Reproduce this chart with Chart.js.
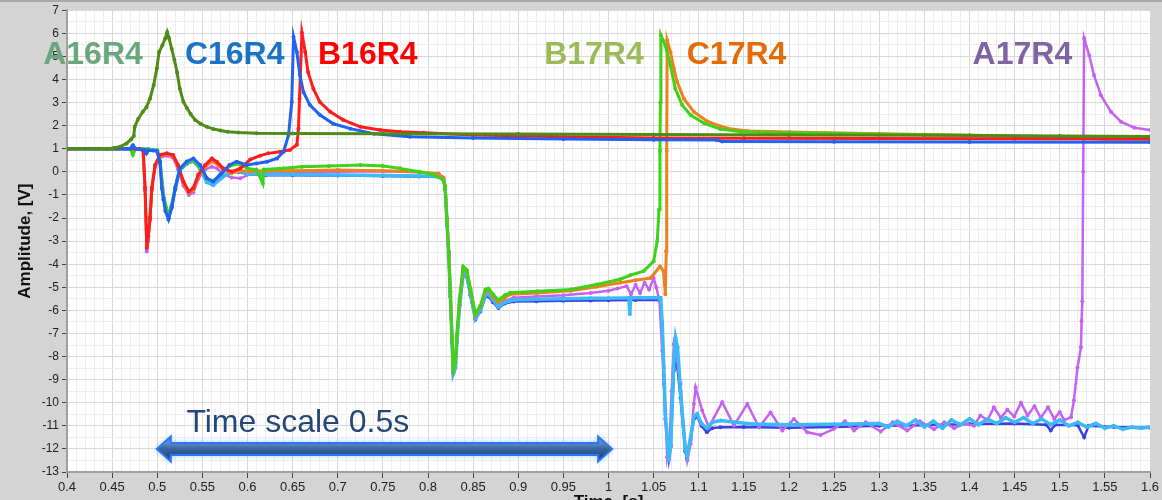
<!DOCTYPE html>
<html>
<head>
<meta charset="utf-8">
<title>Amplitude vs time</title>
<script src="https://cdn.jsdelivr.net/npm/chart.js@4.4.1/dist/chart.umd.min.js"></script>
<style>
  html, body { margin: 0; padding: 0; overflow: hidden; background: #d4d4d4; }
  #wrap { width: 1162px; height: 516px; position: relative; }
</style>
</head>
<body>
<div id="wrap"><canvas id="myChart"></canvas></div>
<script>
'use strict';

/** Data (time in s, amplitude in V) */
let a16r4 = [[0.400,1.00],[0.445,1.00],[0.452,1.03],[0.459,1.09],[0.466,1.23],[0.471,1.40],[0.474,1.55],[0.475,1.95],[0.479,2.30],[0.484,2.60],[0.488,2.80],[0.492,3.17],[0.496,3.75],[0.4995,4.47],[0.502,5.19],[0.5057,5.48],[0.5087,5.76],[0.511,6.05],[0.513,5.80],[0.516,5.33],[0.519,4.85],[0.522,4.30],[0.525,3.60],[0.529,3.03],[0.533,2.75],[0.537,2.50],[0.542,2.25],[0.548,2.08],[0.555,1.95],[0.562,1.86],[0.570,1.79],[0.578,1.74],[0.590,1.70],[0.610,1.67],[0.650,1.66],[0.750,1.65],[0.900,1.64],[1.050,1.62],[1.200,1.60],[1.350,1.58],[1.500,1.55],[1.600,1.53]];

let c16r4 = [[0.400,1.00],[0.470,1.00],[0.473,1.15],[0.476,1.00],[0.480,0.98],[0.486,0.95],[0.488,0.80],[0.490,0.93],[0.495,0.92],[0.4995,0.90],[0.503,0.45],[0.505,-0.70],[0.507,-1.20],[0.509,-1.70],[0.5125,-2.06],[0.516,-1.55],[0.520,-0.70],[0.525,0.15],[0.5327,0.45],[0.540,0.58],[0.5475,0.30],[0.555,-0.28],[0.562,-0.42],[0.570,-0.12],[0.580,0.30],[0.588,0.44],[0.599,0.30],[0.610,0.36],[0.6215,0.44],[0.6326,0.58],[0.640,0.87],[0.6455,1.60],[0.649,3.03],[0.651,5.84],[0.6547,5.19],[0.658,4.20],[0.662,3.46],[0.669,2.90],[0.680,2.47],[0.695,2.08],[0.714,1.87],[0.740,1.65],[0.780,1.52],[0.850,1.46],[0.950,1.42],[1.050,1.39],[1.120,1.38],[1.126,1.31],[1.250,1.30],[1.400,1.29],[1.600,1.28]];

let b16r4 = [[0.400,1.00],[0.480,1.00],[0.4846,0.90],[0.4865,-0.70],[0.4884,-3.30],[0.490,-2.80],[0.492,-2.00],[0.494,-0.70],[0.4976,0.30],[0.503,0.74],[0.5106,0.80],[0.5176,0.73],[0.523,0.30],[0.529,-0.42],[0.535,-0.85],[0.540,-0.70],[0.5455,-0.12],[0.553,0.30],[0.5605,0.58],[0.566,0.44],[0.573,0.15],[0.5826,0.01],[0.592,0.15],[0.603,0.53],[0.614,0.70],[0.623,0.80],[0.636,0.87],[0.647,0.95],[0.6547,1.17],[0.6565,1.88],[0.6576,3.17],[0.6603,6.02],[0.664,5.19],[0.667,4.33],[0.673,3.60],[0.680,3.03],[0.6917,2.60],[0.706,2.25],[0.725,1.95],[0.747,1.81],[0.769,1.74],[0.795,1.69],[0.850,1.60],[0.950,1.52],[1.050,1.47],[1.150,1.45],[1.300,1.44],[1.450,1.43],[1.600,1.42]];

let b17r4 = [[0.400,1.00],[0.470,1.00],[0.473,0.74],[0.476,1.00],[0.490,0.98],[0.500,0.92],[0.503,0.45],[0.507,-1.10],[0.5125,-1.90],[0.516,-1.45],[0.520,-0.65],[0.525,0.10],[0.5327,0.40],[0.540,0.50],[0.5475,0.20],[0.555,-0.30],[0.562,-0.40],[0.570,-0.10],[0.580,0.25],[0.590,0.35],[0.600,0.15],[0.610,0.10],[0.617,-0.50],[0.618,0.10],[0.640,0.15],[0.660,0.22],[0.690,0.25],[0.725,0.30],[0.750,0.25],[0.769,0.15],[0.790,0.00],[0.806,-0.12],[0.817,-0.35],[0.819,-0.65],[0.821,-2.10],[0.823,-3.50],[0.8247,-5.20],[0.8266,-7.20],[0.828,-8.55],[0.8303,-8.20],[0.832,-7.10],[0.835,-5.50],[0.839,-4.10],[0.843,-4.25],[0.847,-5.05],[0.8525,-6.15],[0.858,-5.80],[0.8636,-5.10],[0.867,-5.05],[0.872,-5.30],[0.878,-5.55],[0.885,-5.35],[0.891,-5.24],[0.921,-5.17],[0.958,-5.10],[0.987,-4.88],[1.013,-4.65],[1.024,-4.48],[1.039,-4.30],[1.050,-3.87],[1.054,-3.00],[1.056,-1.63],[1.057,0.90],[1.0575,3.00],[1.058,5.93],[1.063,5.47],[1.0687,4.60],[1.074,3.60],[1.0817,2.89],[1.091,2.46],[1.106,2.10],[1.124,1.85],[1.1465,1.74],[1.183,1.69],[1.240,1.67],[1.300,1.63],[1.400,1.58],[1.500,1.52],[1.600,1.48]];

let c17r4 = [[0.400,1.00],[0.484,1.00],[0.4865,-0.70],[0.4884,-3.20],[0.490,-2.80],[0.492,-1.95],[0.494,-0.70],[0.4976,0.25],[0.503,0.70],[0.5106,0.76],[0.5176,0.68],[0.523,0.25],[0.529,-0.48],[0.535,-0.90],[0.540,-0.78],[0.5455,-0.18],[0.553,0.22],[0.5605,0.45],[0.566,0.35],[0.573,0.08],[0.5826,-0.05],[0.592,0.05],[0.603,0.02],[0.620,0.05],[0.650,0.05],[0.700,0.08],[0.750,0.05],[0.790,0.00],[0.812,-0.10],[0.817,-0.28],[0.819,-0.60],[0.821,-2.05],[0.823,-3.48],[0.8247,-5.20],[0.8266,-7.20],[0.828,-8.58],[0.8303,-8.25],[0.832,-7.15],[0.835,-5.55],[0.839,-4.15],[0.843,-4.30],[0.847,-5.10],[0.8525,-6.20],[0.858,-5.85],[0.8636,-5.15],[0.867,-5.12],[0.872,-5.40],[0.878,-5.65],[0.885,-5.45],[0.891,-5.30],[0.921,-5.25],[0.958,-5.15],[0.987,-4.98],[1.013,-4.80],[1.030,-4.70],[1.0466,-4.60],[1.057,-4.10],[1.061,-4.30],[1.063,-5.30],[1.064,-3.44],[1.0645,0.90],[1.065,5.70],[1.0687,5.19],[1.0724,4.47],[1.076,3.90],[1.0835,3.17],[1.0946,2.60],[1.110,2.17],[1.132,1.88],[1.154,1.77],[1.200,1.72],[1.300,1.65],[1.400,1.58],[1.500,1.50],[1.530,1.45],[1.550,1.41],[1.600,1.41]];

let a17r4 = [[0.400,1.00],[0.484,1.00],[0.4865,-0.80],[0.4884,-3.45],[0.490,-3.00],[0.492,-2.10],[0.494,-0.80],[0.4976,0.20],[0.503,0.62],[0.5106,0.70],[0.5176,0.60],[0.523,0.10],[0.529,-0.60],[0.535,-1.00],[0.540,-0.90],[0.5455,-0.30],[0.553,0.10],[0.5605,0.22],[0.566,0.15],[0.573,-0.10],[0.5826,-0.25],[0.592,-0.28],[0.603,-0.10],[0.620,0.00],[0.650,-0.02],[0.700,0.00],[0.750,0.02],[0.790,-0.02],[0.812,-0.08],[0.817,-0.25],[0.819,-0.60],[0.821,-2.00],[0.823,-3.44],[0.8247,-5.17],[0.8266,-7.18],[0.828,-8.60],[0.8303,-8.30],[0.832,-7.18],[0.835,-5.60],[0.839,-4.20],[0.843,-4.35],[0.847,-5.17],[0.8525,-6.30],[0.858,-5.90],[0.8636,-5.20],[0.867,-5.20],[0.872,-5.50],[0.878,-5.80],[0.885,-5.60],[0.895,-5.45],[0.920,-5.40],[0.950,-5.35],[0.980,-5.25],[1.000,-5.15],[1.010,-5.05],[1.020,-4.95],[1.025,-5.30],[1.030,-4.90],[1.035,-5.25],[1.040,-4.80],[1.045,-5.10],[1.050,-4.60],[1.053,-5.00],[1.0565,-5.60],[1.0595,-7.75],[1.0613,-9.19],[1.063,-10.34],[1.065,-12.36],[1.0675,-11.80],[1.070,-9.50],[1.0724,-7.47],[1.075,-7.90],[1.0798,-9.19],[1.083,-11.00],[1.0854,-11.93],[1.0872,-12.50],[1.091,-11.78],[1.0946,-10.05],[1.0965,-9.34],[1.1038,-10.34],[1.1112,-11.06],[1.126,-9.98],[1.139,-10.99],[1.1538,-10.05],[1.1667,-11.06],[1.1796,-10.42],[1.1926,-11.20],[1.2055,-10.70],[1.2203,-11.28],[1.235,-11.40],[1.2498,-11.13],[1.262,-10.80],[1.272,-11.20],[1.285,-10.85],[1.3016,-11.25],[1.315,-10.85],[1.331,-11.20],[1.345,-10.80],[1.3607,-11.15],[1.372,-10.85],[1.383,-11.10],[1.395,-10.90],[1.405,-11.00],[1.412,-10.55],[1.420,-10.75],[1.427,-10.20],[1.4347,-10.65],[1.442,-10.30],[1.4495,-10.60],[1.457,-10.00],[1.4643,-10.55],[1.472,-10.15],[1.479,-10.65],[1.487,-10.20],[1.494,-10.70],[1.500,-10.40],[1.505,-10.75],[1.5124,-10.63],[1.5157,-9.90],[1.5197,-8.47],[1.5235,-7.60],[1.5242,-6.46],[1.525,-5.60],[1.526,0.00],[1.527,5.79],[1.5327,5.04],[1.538,4.18],[1.5456,3.32],[1.5567,2.60],[1.5678,2.17],[1.5826,1.91],[1.600,1.81]];

let cyanTrace = [[0.400,1.00],[0.490,0.98],[0.500,0.92],[0.503,0.45],[0.507,-1.10],[0.5125,-1.95],[0.516,-1.50],[0.520,-0.70],[0.525,0.10],[0.5327,0.38],[0.540,0.48],[0.5475,0.15],[0.555,-0.45],[0.562,-0.58],[0.570,-0.30],[0.580,-0.02],[0.590,0.05],[0.600,-0.08],[0.620,-0.12],[0.650,-0.12],[0.700,-0.14],[0.750,-0.16],[0.790,-0.18],[0.812,-0.20],[0.817,-0.30],[0.819,-0.70],[0.821,-2.20],[0.823,-3.60],[0.8247,-5.30],[0.8266,-7.30],[0.828,-8.75],[0.8303,-8.50],[0.832,-7.40],[0.835,-5.80],[0.839,-4.40],[0.843,-4.50],[0.847,-5.30],[0.8525,-6.35],[0.858,-6.00],[0.8636,-5.35],[0.867,-5.30],[0.872,-5.55],[0.878,-5.85],[0.885,-5.65],[0.895,-5.55],[0.920,-5.52],[0.950,-5.50],[0.980,-5.48],[1.000,-5.47],[1.0226,-5.45],[1.0236,-6.17],[1.0246,-5.45],[1.040,-5.45],[1.0576,-5.45],[1.0595,-6.50],[1.0613,-8.50],[1.063,-10.50],[1.0669,-12.50],[1.069,-11.80],[1.0724,-8.19],[1.0743,-7.18],[1.0765,-7.60],[1.0798,-9.50],[1.085,-12.00],[1.087,-12.30],[1.091,-11.50],[1.0946,-10.60],[1.0983,-10.48],[1.103,-10.90],[1.109,-11.10],[1.115,-10.85],[1.124,-10.77],[1.140,-10.85],[1.160,-10.92],[1.200,-10.95],[1.250,-10.93],[1.300,-10.90],[1.310,-11.05],[1.320,-10.80],[1.330,-11.00],[1.340,-10.75],[1.350,-11.05],[1.360,-10.80],[1.370,-11.10],[1.380,-10.75],[1.390,-10.95],[1.400,-10.70],[1.410,-10.95],[1.420,-10.70],[1.430,-10.90],[1.440,-10.65],[1.450,-10.85],[1.460,-10.65],[1.470,-10.90],[1.480,-10.70],[1.490,-10.95],[1.500,-10.75],[1.510,-11.00],[1.520,-10.85],[1.530,-11.05],[1.540,-10.90],[1.550,-11.10],[1.560,-11.00],[1.570,-11.15],[1.580,-11.05],[1.590,-11.10],[1.600,-11.05]];

let indigoTrace = [[0.400,1.00],[0.490,0.98],[0.500,0.92],[0.503,0.40],[0.507,-1.20],[0.5125,-2.00],[0.516,-1.55],[0.520,-0.75],[0.525,0.05],[0.5327,0.35],[0.540,0.45],[0.5475,0.12],[0.555,-0.45],[0.562,-0.55],[0.570,-0.30],[0.580,-0.05],[0.590,0.00],[0.600,-0.10],[0.620,-0.15],[0.650,-0.15],[0.700,-0.16],[0.750,-0.18],[0.790,-0.20],[0.812,-0.22],[0.817,-0.35],[0.819,-0.75],[0.821,-2.30],[0.823,-3.70],[0.8247,-5.40],[0.8266,-7.40],[0.828,-8.70],[0.8303,-8.45],[0.832,-7.35],[0.835,-5.75],[0.839,-4.45],[0.843,-4.55],[0.847,-5.35],[0.8525,-6.40],[0.858,-6.05],[0.8636,-5.40],[0.867,-5.40],[0.872,-5.65],[0.878,-5.90],[0.885,-5.70],[0.895,-5.62],[0.920,-5.60],[0.950,-5.58],[0.980,-5.57],[1.000,-5.56],[1.030,-5.55],[1.0576,-5.55],[1.0595,-6.80],[1.0613,-8.80],[1.063,-10.70],[1.0669,-12.45],[1.069,-11.90],[1.0724,-8.60],[1.0743,-8.19],[1.0765,-8.50],[1.0798,-9.80],[1.085,-12.10],[1.087,-12.40],[1.091,-11.60],[1.0946,-10.70],[1.0983,-10.60],[1.103,-11.00],[1.109,-11.28],[1.115,-11.10],[1.124,-11.06],[1.150,-11.05],[1.200,-11.08],[1.250,-11.05],[1.300,-11.00],[1.350,-10.98],[1.400,-10.92],[1.450,-10.90],[1.485,-10.95],[1.490,-11.20],[1.495,-10.95],[1.520,-10.98],[1.527,-11.50],[1.532,-11.00],[1.560,-11.05],[1.600,-11.08]];

// Axis ranges
let xMin = 0.4;
let xMax = 1.6;
let yMin = -13;
let yMax = 7;

// Traces, in drawing order (first one ends on top)
let traceNames = ['A16R4', 'C16R4', 'B16R4', 'B17R4', 'C17R4', 'cyan', 'A17R4', 'indigo'];
let traceData = [a16r4, c16r4, b16r4, b17r4, c17r4, cyanTrace, a17r4, indigoTrace];
let traceColors = ['#4f8c17', '#2162f2', '#ff1c1c', '#3ed21a', '#f0801e', '#3cb9f6', '#c562f2', '#3d3ee6'];
let traceWidths = [3, 3, 3, 3, 3, 3.5, 2.5, 2.5];

// Big labels over the plot
let callouts = [
  { text: 'A16R4', x: 0.4288, color: '#6aa77c' },
  { text: 'C16R4', x: 0.5858, color: '#1a74c6' },
  { text: 'B16R4', x: 0.7333, color: '#ff0000' },
  { text: 'B17R4', x: 0.9839, color: '#9bbb59' },
  { text: 'C17R4', x: 1.1419, color: '#e36c09' },
  { text: 'A17R4', x: 1.4586, color: '#8064a2' }
];
let calloutY = 4.67;

// Helpers
function isMultiple(v, step) {
  let k = Math.round(v / step);
  return Math.abs(v / step - k) < 1e-6;
}

/** Plugins */
const backdrop = {
  id: 'backdrop',
  beforeDraw(chart) {
    const { ctx, chartArea: a, width, height } = chart;
    ctx.save();
    ctx.fillStyle = '#d4d4d4';
    ctx.fillRect(0, 0, width, height);
    ctx.fillStyle = '#a8a8a8';
    ctx.fillRect(0, 0, width, 2);
    ctx.fillStyle = '#ffffff';
    ctx.fillRect(a.left, a.top, a.right - a.left, a.bottom - a.top);
    ctx.restore();
  }
};

function arrowPath(ctx, x0, x1, y) {
  const shaft = 6, head = 12.5, len = 14;
  ctx.beginPath();
  ctx.moveTo(x0, y);
  ctx.lineTo(x0 + len, y - head);
  ctx.lineTo(x0 + len, y - shaft);
  ctx.lineTo(x1 - len, y - shaft);
  ctx.lineTo(x1 - len, y - head);
  ctx.lineTo(x1, y);
  ctx.lineTo(x1 - len, y + head);
  ctx.lineTo(x1 - len, y + shaft);
  ctx.lineTo(x0 + len, y + shaft);
  ctx.lineTo(x0 + len, y + head);
  ctx.closePath();
}

const overlay = {
  id: 'overlay',
  afterDraw(chart) {
    const ctx = chart.ctx;
    const xs = chart.scales.x;
    const ys = chart.scales.y;
    ctx.save();

    // series callouts
    ctx.font = 'bold 32px "Liberation Sans", Arial, sans-serif';
    ctx.textAlign = 'center';
    ctx.textBaseline = 'alphabetic';
    for (let i = 0; i < callouts.length; i++) {
      ctx.fillStyle = callouts[i].color;
      ctx.fillText(callouts[i].text, xs.getPixelForValue(callouts[i].x), ys.getPixelForValue(calloutY));
    }

    // time scale arrow, 0.5 s wide
    let ax0 = xs.getPixelForValue(0.4995);
    let ax1 = xs.getPixelForValue(1.004);
    let ay = ys.getPixelForValue(-12);
    let grad = ctx.createLinearGradient(0, ay - 6, 0, ay + 6);
    grad.addColorStop(0, '#5f8cc6');
    grad.addColorStop(0.5, '#3a64a0');
    grad.addColorStop(1, '#2a4f86');
    ctx.shadowColor = 'rgba(40,130,255,0.55)';
    ctx.shadowBlur = 6;
    arrowPath(ctx, ax0, ax1, ay);
    ctx.fillStyle = grad;
    ctx.fill();
    ctx.shadowBlur = 0;
    ctx.lineWidth = 2;
    ctx.strokeStyle = '#2a78f5';
    ctx.stroke();

    ctx.font = '32px "Liberation Sans", Arial, sans-serif';
    ctx.textAlign = 'left';
    ctx.fillStyle = '#24477a';
    ctx.fillText('Time scale 0.5s', xs.getPixelForValue(0.5323), ys.getPixelForValue(-11.28));
    ctx.restore();
  }
};

/** Chart */
Chart.defaults.font.family = '"Liberation Sans", Arial, sans-serif';
Chart.defaults.color = '#222';

let datasets = [];
for (let i = 0; i < traceData.length; i++) {
  datasets.push({
    label: traceNames[i],
    data: traceData[i].map(p => ({ x: p[0], y: p[1] })),
    borderColor: traceColors[i],
    backgroundColor: traceColors[i],
    borderWidth: traceWidths[i],
    pointRadius: 2,
    pointBorderWidth: 0,
    pointHoverRadius: 0,
    tension: 0,
    fill: false,
    order: i
  });
}

let ctx = document.getElementById('myChart');

new Chart(ctx, {
  type: 'line',
  data: { datasets: datasets },
  plugins: [backdrop, overlay],
  options: {
    responsive: true,
    maintainAspectRatio: false,
    animation: false,
    events: [],
    layout: { padding: { top: 8, right: 12, left: 0, bottom: 0 } },
    plugins: {
      legend: { display: false },
      tooltip: { enabled: false }
    },
    scales: {
      x: {
        type: 'linear',
        min: xMin,
        max: xMax,
        afterFit(scale) { scale.height = 44; },
        border: { color: '#a0a0a0', width: 2 },
        grid: {
          color: c => isMultiple(c.tick.value, 0.05) ? '#d8d8d8' : '#eeeeee',
          tickColor: c => isMultiple(c.tick.value, 0.05) ? '#444' : 'rgba(0,0,0,0)',
          tickLength: 6
        },
        ticks: {
          stepSize: 0.01,
          maxTicksLimit: 200,
          autoSkip: false,
          maxRotation: 0,
          padding: 2,
          font: { size: 13 },
          callback: v => isMultiple(v, 0.05) ? String(+v.toFixed(2)) : ''
        },
        title: {
          display: true,
          text: 'Time, [s]',
          font: { size: 17, weight: 'bold' },
          color: '#111',
          padding: { top: 0, bottom: 3 }
        }
      },
      y: {
        min: yMin,
        max: yMax,
        afterFit(scale) { scale.width = 67; },
        border: { color: '#a0a0a0', width: 2 },
        grid: {
          color: c => isMultiple(c.tick.value, 1) ? '#d8d8d8' : '#eeeeee',
          tickColor: c => isMultiple(c.tick.value, 1) ? '#444' : 'rgba(0,0,0,0)',
          tickLength: 5
        },
        ticks: {
          stepSize: 0.5,
          maxTicksLimit: 100,
          autoSkip: false,
          padding: 3,
          font: { size: 12 },
          callback: v => isMultiple(v, 1) ? String(Math.round(v)) : ''
        },
        title: {
          display: true,
          text: 'Amplitude, [V]',
          font: { size: 17, weight: 'bold' },
          color: '#111',
          padding: { top: 15, bottom: 0 }
        }
      }
    }
  }
});
</script>
</body>
</html>
